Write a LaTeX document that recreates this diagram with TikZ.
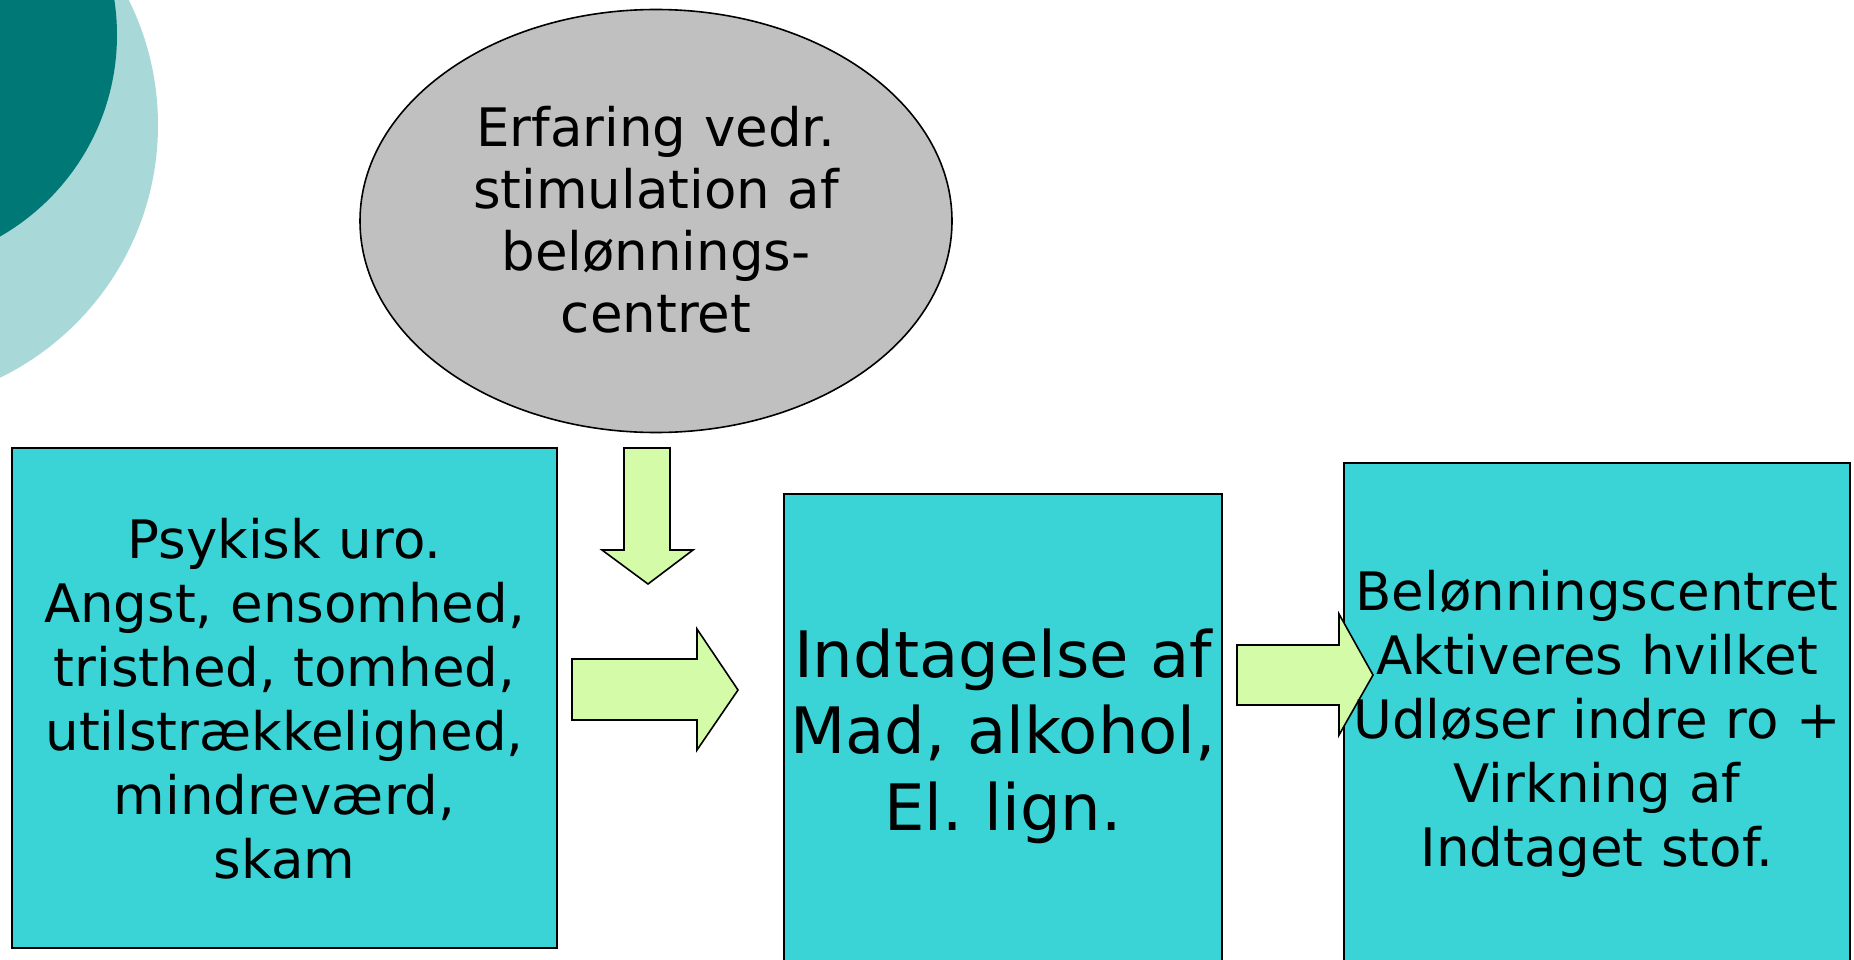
\documentclass[tikz,border=0pt]{standalone}
\usepackage{fontspec}
\setmainfont{DejaVu Sans}
\usetikzlibrary{shapes.geometric}
\definecolor{boxcyan}{RGB}{58,212,214}
\definecolor{arrowgreen}{RGB}{212,252,168}
\definecolor{ellgray}{RGB}{192,192,192}
\definecolor{darkteal}{RGB}{0,120,118}
\definecolor{lightteal}{RGB}{168,216,216}
\frenchspacing
\tikzset{
  box/.style={draw=black, fill=boxcyan, line width=1.6pt, inner sep=0pt, outer sep=0pt},
  bubble/.style={ellipse, draw=black, fill=ellgray, line width=1.6pt, inner sep=0pt},
  txt/.style={anchor=base, align=center, text width=600pt, inner sep=0pt, text=black},
  blockarrow/.style={draw=black, fill=arrowgreen, line width=1.6pt, line join=miter},
}
\begin{document}
\begin{tikzpicture}[x=1pt,y=-1pt]
\useasboundingbox (0,0) rectangle (1854,960);
\clip (0,0) rectangle (1854,960);
\fill[white] (0,0) rectangle (1854,960);
% decorative circles
\fill[lightteal] (-123,125) circle[radius=281];
\fill[darkteal] (-115,35) circle[radius=232];
% shapes
\node[bubble, minimum width=592pt, minimum height=423pt] (exp) at (656,221) {};
\node[box, minimum width=545pt, minimum height=500pt] (psy) at (284.5,698) {};
\node[box, minimum width=438pt, minimum height=473pt] (ind) at (1003,730.5) {};
\node[box, minimum width=506pt, minimum height=510pt] (bel) at (1597,718) {};
% texts
\node[txt, font=\fontsize{53}{62}\selectfont\frenchspacing] (expt) at (656,147)
  {Erfaring vedr.\\stimulation af\\belønnings-\\centret};
\node[txt, font=\fontsize{53}{64}\selectfont\frenchspacing] (psyt) at (284.5,558)
  {Psykisk uro.\\Angst, ensomhed,\\tristhed, tomhed,\\utilstrækkelighed,\\mindreværd,\\skam};
\node[txt, font=\fontsize{64}{76.5}\selectfont\frenchspacing] (indt) at (1003,677)
  {Indtagelse af\\Mad, alkohol,\\El. lign.};
% block arrows
\filldraw[blockarrow] (624,448) -- (670,448) -- (670,550) -- (693,550) -- (648,584)
  -- (602,550) -- (624,550) -- cycle;
\filldraw[blockarrow] (572,659) -- (697,659) -- (697,629) -- (738,690) -- (697,750)
  -- (697,720) -- (572,720) -- cycle;
\filldraw[blockarrow] (1237,645) -- (1339,645) -- (1339,614) -- (1373,675) -- (1339,735)
  -- (1339,705) -- (1237,705) -- cycle;
\node[txt, font=\fontsize{53}{64}\selectfont\frenchspacing] (belt) at (1597,610)
  {Belønningscentret\\Aktiveres hvilket\\Udløser indre ro +\\Virkning af\\Indtaget stof.};
\end{tikzpicture}
\end{document}
